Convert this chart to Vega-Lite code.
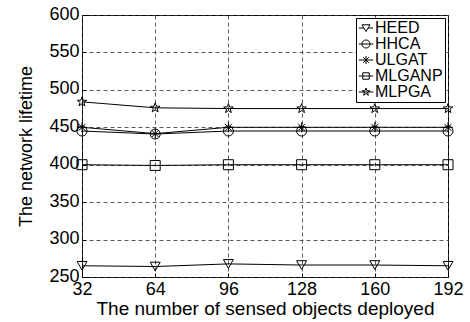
{
  "$schema": "https://vega.github.io/schema/vega-lite/v6.json",
  "width": 366,
  "height": 262,
  "autosize": {"type": "none"},
  "padding": {"left": 82, "top": 15, "right": 22, "bottom": 45},
  "background": "white",
  "config": {
    "font": "Liberation Sans",
    "view": {"stroke": "black", "strokeWidth": 1},
    "axis": {
      "grid": true,
      "gridColor": "#333",
      "gridDash": [4, 3],
      "gridOpacity": 0.8,
      "domain": false,
      "tickColor": "black",
      "tickSize": -4,
      "labelFlush": false,
      "labelOverlap": false,
      "labelColor": "black",
      "titleColor": "black",
      "labelFont": "Liberation Sans",
      "titleFont": "Liberation Sans",
      "labelFontSize": 18,
      "titleFontSize": 18,
      "titleFontWeight": "normal"
    }
  },
  "data": {
    "values": [
      {"n": 32, "series": "HEED", "v": 265},
      {"n": 64, "series": "HEED", "v": 264},
      {"n": 96, "series": "HEED", "v": 267.5},
      {"n": 128, "series": "HEED", "v": 266},
      {"n": 160, "series": "HEED", "v": 266},
      {"n": 192, "series": "HEED", "v": 265},
      {"n": 32, "series": "HHCA", "v": 445},
      {"n": 64, "series": "HHCA", "v": 441},
      {"n": 96, "series": "HHCA", "v": 445},
      {"n": 128, "series": "HHCA", "v": 445},
      {"n": 160, "series": "HHCA", "v": 445},
      {"n": 192, "series": "HHCA", "v": 445},
      {"n": 32, "series": "ULGAT", "v": 450},
      {"n": 64, "series": "ULGAT", "v": 441.5},
      {"n": 96, "series": "ULGAT", "v": 450},
      {"n": 128, "series": "ULGAT", "v": 450},
      {"n": 160, "series": "ULGAT", "v": 450},
      {"n": 192, "series": "ULGAT", "v": 450},
      {"n": 32, "series": "MLGANP", "v": 400},
      {"n": 64, "series": "MLGANP", "v": 399},
      {"n": 96, "series": "MLGANP", "v": 400},
      {"n": 128, "series": "MLGANP", "v": 400},
      {"n": 160, "series": "MLGANP", "v": 400},
      {"n": 192, "series": "MLGANP", "v": 400},
      {"n": 32, "series": "MLPGA", "v": 484},
      {"n": 64, "series": "MLPGA", "v": 476},
      {"n": 96, "series": "MLPGA", "v": 475},
      {"n": 128, "series": "MLPGA", "v": 475},
      {"n": 160, "series": "MLPGA", "v": 475},
      {"n": 192, "series": "MLPGA", "v": 475}
    ]
  },
  "encoding": {
    "x": {
      "field": "n", "type": "quantitative",
      "scale": {"domain": [32, 192], "nice": false, "zero": false},
      "axis": {"values": [32, 64, 96, 128, 160, 192], "title": "The number of sensed objects deployed", "titleFontSize": 19, "labelPadding": 7, "titlePadding": 1}
    },
    "y": {
      "field": "v", "type": "quantitative",
      "scale": {"domain": [250, 600], "nice": false, "zero": false},
      "axis": {"values": [250, 300, 350, 400, 450, 500, 550, 600], "title": "The network lifetime", "labelPadding": 7, "labelOffset": -1, "titlePadding": 13}
    }
  },
  "resolve": {"scale": {"shape": "independent"}, "legend": {"shape": "independent"}},
  "layer": [
    {
      "mark": {"type": "line", "color": "black", "strokeWidth": 1},
      "encoding": {"detail": {"field": "series", "type": "nominal"}}
    },
    {
      "mark": {"type": "point", "filled": false, "stroke": "black", "strokeWidth": 1, "size": 100, "opacity": 1},
      "encoding": {
        "shape": {
          "field": "series", "type": "nominal",
          "scale": {
            "domain": ["HEED", "HHCA", "ULGAT", "MLGANP", "MLPGA"],
            "range": ["triangle-down", "circle", "M-1,0L1,0M0,-1L0,1M-0.7,-0.7L0.7,0.7M-0.7,0.7L0.7,-0.7", "square", "M0,-1L0.235,-0.324L0.951,-0.309L0.380,0.124L0.588,0.809L0,0.4L-0.588,0.809L-0.380,0.124L-0.951,-0.309L-0.235,-0.324Z"]
          },
          "legend": null
        }
      }
    },
    {
      "transform": [{"filter": "datum.v < 0"}],
      "mark": {"type": "point", "filled": false, "stroke": "black", "strokeWidth": 1, "opacity": 1},
      "encoding": {
        "shape": {
          "field": "series", "type": "nominal",
          "scale": {
            "domain": ["HEED", "HHCA", "ULGAT", "MLGANP", "MLPGA"],
            "range": [
              "M-1,-0.8L1,-0.8L0,0.9ZM-1.8,0L-0.55,0M0.55,0L1.8,0",
              "M-1,0A1,1,0,1,0,1,0A1,1,0,1,0,-1,0ZM-1.8,0L1.8,0",
              "M-1.8,0L1.8,0M0,-1L0,1M-0.7,-0.7L0.7,0.7M-0.7,0.7L0.7,-0.7",
              "M-0.8,-0.8L0.8,-0.8L0.8,0.8L-0.8,0.8ZM-1.8,0L-0.8,0M0.8,0L1.8,0M-0.8,0L0.8,0",
              "M0,-1L0.235,-0.324L0.951,-0.309L0.380,0.124L0.588,0.809L0,0.4L-0.588,0.809L-0.380,0.124L-0.951,-0.309L-0.235,-0.324ZM-1.8,0L1.8,0"
            ]
          },
          "legend": {
            "title": null,
            "orient": "top-right",
            "offset": 3,
            "strokeColor": "black",
            "fillColor": "white",
            "padding": 2,
            "labelFontSize": 16,
            "labelColor": "black",
            "labelFont": "Liberation Sans",
            "symbolStrokeColor": "black",
            "symbolFillColor": "transparent",
            "symbolSize": 65,
            "symbolStrokeWidth": 1,
            "rowPadding": 0,
            "labelOffset": 1
          }
        }
      }
    }
  ]
}
